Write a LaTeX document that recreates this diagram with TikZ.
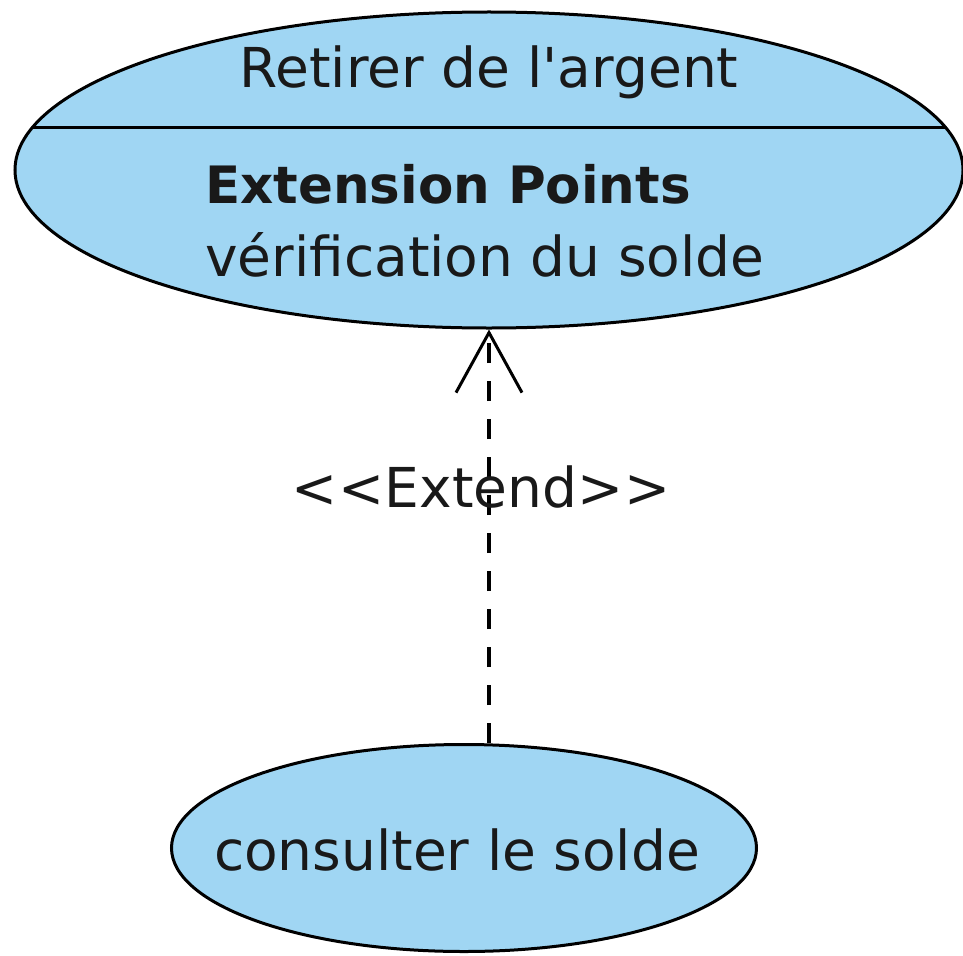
\documentclass[tikz,border=0pt]{standalone}
\usetikzlibrary{shapes.geometric,arrows.meta}
\usepackage{fontspec}
\setmainfont{DejaVu Sans}
\definecolor{usecase}{RGB}{160,214,243}
\tikzset{
  uc/.style={ellipse,draw,line width=3pt,fill=usecase,inner sep=0pt},
  txt/.style={font=\fontsize{55}{66}\selectfont,inner sep=0pt,text=black!90},
  extend/.style={line width=3.2pt,dash pattern=on 20pt off 18pt,-{Straight Barb[length=60pt,width=66pt,line width=3pt]}}
}

\begin{document}
\begin{tikzpicture}[x=1pt,y=-1pt]
      \useasboundingbox (0,0) rectangle (963,955);
      \node[uc,minimum width=948,minimum height=316] (retirer) at (489,170) {};
      \node[uc,minimum width=585,minimum height=207] (consulter) at (464,848) {};
      \coordinate (sepW) at (33,128);
      \coordinate (sepE) at (945,128);
      \draw[line width=3pt] (sepW) -- (sepE);
      \node[txt,anchor=base] (nomR) at (489,88) {Retirer de l\textquotesingle argent};
      \node[txt,anchor=base west,font=\fontsize{51.5}{62}\selectfont\bfseries] (ext) at (205,203) {Extension Points};
      \node[txt,anchor=base west] (point) at (205,276) {vérification du solde};
      \node[txt,anchor=base] (nomC) at (457,870) {consulter le solde};
      \draw[extend] (retirer.south |- consulter.north) -- (retirer.south);
      \node[txt,anchor=base] (lbl) at (481,507) {<\kern1pt<Extend>\kern1pt>};
\end{tikzpicture}
\end{document}
